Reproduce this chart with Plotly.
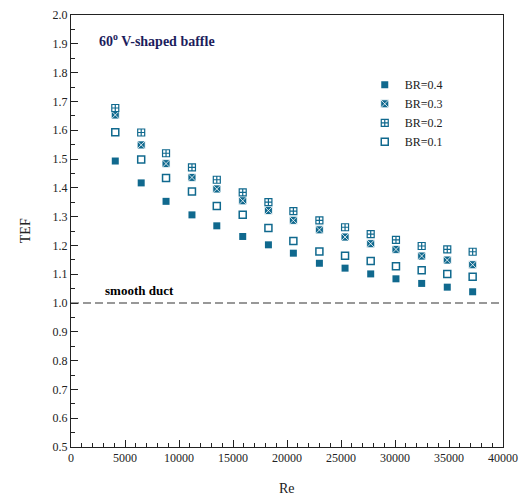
import plotly.graph_objects as go

re_vals = [4100, 6500, 8800, 11200, 13500, 15900, 18280, 20590, 23000, 25375, 27750, 30090, 32470, 34840, 37190]
tef_br04 = [1.493, 1.417, 1.353, 1.306, 1.268, 1.231, 1.202, 1.173, 1.138, 1.121, 1.101, 1.084, 1.068, 1.055, 1.039]
tef_br03 = [1.653, 1.549, 1.484, 1.436, 1.396, 1.355, 1.321, 1.287, 1.254, 1.229, 1.206, 1.186, 1.163, 1.149, 1.133]
tef_br02 = [1.677, 1.592, 1.520, 1.471, 1.428, 1.384, 1.350, 1.319, 1.287, 1.263, 1.239, 1.219, 1.198, 1.186, 1.178]
tef_br01 = [1.593, 1.498, 1.434, 1.387, 1.337, 1.306, 1.260, 1.215, 1.179, 1.164, 1.146, 1.128, 1.114, 1.101, 1.091]
series_names = ["BR=0.4", "BR=0.3", "BR=0.2", "BR=0.1"]
smooth_duct_tef = 1.0

C = "#10698e"
FONT = "Liberation Serif"

fig = go.Figure()
fig.add_trace(go.Scatter(x=re_vals, y=tef_br04, mode="markers", name=series_names[0],
                         marker=dict(symbol="square", size=7, color=C, line=dict(width=0))))
fig.add_trace(go.Scatter(x=re_vals, y=tef_br03, mode="markers", name=series_names[1],
                         marker=dict(symbol="square-x", size=8, color=C, line=dict(width=0.8, color="white"))))
fig.add_trace(go.Scatter(x=re_vals, y=tef_br02, mode="markers", name=series_names[2],
                         marker=dict(symbol="square-cross-open", size=7, color=C, line=dict(width=1.2, color=C))))
fig.add_trace(go.Scatter(x=re_vals, y=tef_br01, mode="markers", name=series_names[3],
                         marker=dict(symbol="square-open", size=7, color=C, line=dict(width=1.5, color=C))))

fig.add_shape(type="line", x0=0, x1=40000, y0=smooth_duct_tef, y1=smooth_duct_tef, xref="x", yref="y",
              line=dict(color="#333333", width=1.2, dash="8px,4px"))

fig.add_annotation(x=3000, y=1.042, xref="x", yref="y", text="<b>smooth duct</b>", showarrow=False,
                   xanchor="left", yanchor="middle", font=dict(family=FONT, size=13, color="black"))
fig.add_annotation(x=0.061, y=0.942, xref="paper", yref="paper", text="<b>60<sup>o</sup> V-shaped baffle</b>",
                   showarrow=False, xanchor="left", yanchor="middle", font=dict(family=FONT, size=14, color="#1c1c5c"))
# axis titles
fig.add_annotation(x=0.5, y=-0.097, xref="paper", yref="paper", text="Re", showarrow=False,
                   xanchor="center", yanchor="middle", font=dict(family=FONT, size=14, color="#222222"))
fig.add_annotation(x=-0.106, y=0.5, xref="paper", yref="paper", text="TEF", showarrow=False, textangle=-90,
                   xanchor="center", yanchor="middle", font=dict(family=FONT, size=14, color="#222222"))

fig.update_layout(
    width=526, height=498,
    margin=dict(l=71, r=23, t=15, b=51, autoexpand=False),
    plot_bgcolor="white", paper_bgcolor="white",
    font=dict(family=FONT, size=12, color="#222222"),
    showlegend=True,
    legend=dict(x=0.68, y=0.872, xanchor="left", yanchor="top", bgcolor="rgba(0,0,0,0)",
                font=dict(family=FONT, size=12, color="#222222"), itemwidth=30, tracegroupgap=0),
    xaxis=dict(range=[0, 40000], tickmode="linear", tick0=0, dtick=5000, tickformat="d", ticks="inside", ticklen=7,
               tickcolor="#222", showline=True, linecolor="#222", linewidth=1, mirror=True,
               showgrid=False, zeroline=False, automargin=False,
               minor=dict(ticks="inside", ticklen=4, dtick=1000, tickcolor="#222", showgrid=False)),
    yaxis=dict(range=[0.5, 2.0], tickmode="linear", tick0=0.5, dtick=0.1, tickformat=".1f", ticks="inside",
               ticklen=7, tickcolor="#222", showline=True, linecolor="#222", linewidth=1, mirror=True,
               showgrid=False, zeroline=False, automargin=False,
               minor=dict(ticks="inside", ticklen=4, dtick=0.05, tickcolor="#222", showgrid=False)),
)

fig.write_html("out.html")
